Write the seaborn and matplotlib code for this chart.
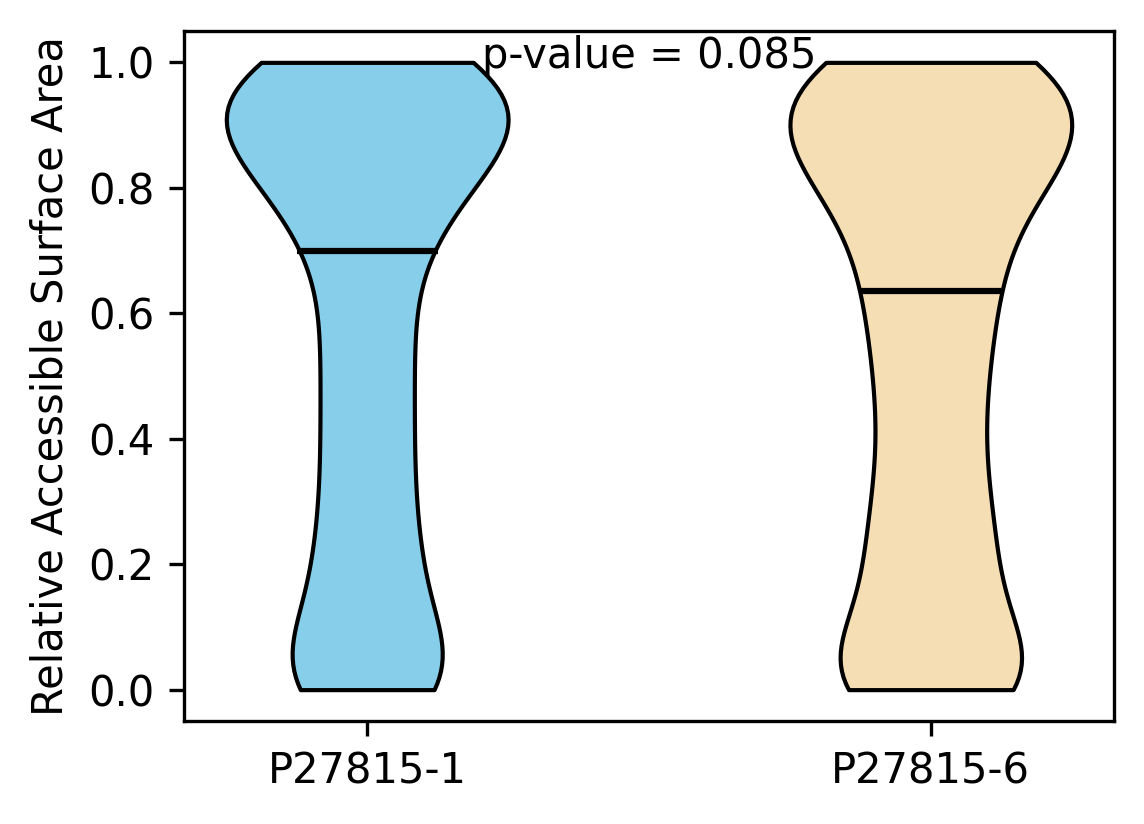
import numpy as np
import pandas as pd
import seaborn as sns
from matplotlib import pyplot as plt

groups = ['P27815-1', 'P27815-6']
colors = ['#87CEEB', '#F5DEB3']

rsa_iso1 = [0.00, 0.00, 0.00, 0.00, 0.01, 0.02, 0.04, 0.06, 0.08,
            0.11, 0.14, 0.17, 0.19,
            0.22, 0.25, 0.28,
            0.32, 0.35, 0.38,
            0.42, 0.45, 0.48,
            0.52, 0.55, 0.58,
            0.62, 0.65, 0.69,
            0.71, 0.74, 0.76, 0.78, 0.79,
            0.81, 0.82, 0.84, 0.85, 0.86, 0.87, 0.88, 0.89, 0.90,
            0.91, 0.92, 0.92, 0.93, 0.94, 0.95, 0.96, 0.97, 0.98, 0.99,
            1.00, 1.00, 1.00, 1.00]
rsa_iso6 = [0.00, 0.00, 0.00, 0.00, 0.00, 0.01, 0.02, 0.04, 0.06, 0.08,
            0.11, 0.14, 0.16, 0.19,
            0.21, 0.24, 0.26, 0.29,
            0.32, 0.35, 0.38,
            0.42, 0.45, 0.48,
            0.51, 0.54, 0.57, 0.59,
            0.63, 0.64, 0.67, 0.69,
            0.72, 0.74, 0.76, 0.78, 0.79,
            0.81, 0.83, 0.84, 0.85, 0.86, 0.87, 0.88, 0.89,
            0.90, 0.91, 0.92, 0.93, 0.94, 0.95, 0.97, 0.99,
            1.00, 1.00, 1.00, 1.00, 1.00]
p_value = 0.085

df = pd.DataFrame({
    'group': [groups[0]] * len(rsa_iso1) + [groups[1]] * len(rsa_iso6),
    'rsa': rsa_iso1 + rsa_iso6,
})

fig = plt.figure(figsize=(1144 / 300, 824 / 300), dpi=300)
ax = fig.add_axes([184 / 1144, 103 / 824, 930 / 1144, 690 / 824])

width = 0.5
sns.violinplot(data=df, x='group', y='rsa', hue='group', palette=colors,
               cut=0, inner=None, density_norm='width', width=width, bw_adjust=0.55,
               linecolor='black', linewidth=1.0, saturation=1, legend=False, ax=ax)
for coll in ax.collections:
    coll.set_alpha(1)

# median lines, half the violin width like matplotlib's showmedians
for i, vals in enumerate([rsa_iso1, rsa_iso6]):
    med = np.median(vals)
    ax.hlines(med, i - width / 4, i + width / 4, color='black', linewidth=1.5, zorder=3)

ax.set_xlim(-0.325, 1.325)
ax.set_ylim(-0.05, 1.05)
ax.set_xlabel('')
ax.set_ylabel('Relative Accessible Surface Area', fontsize=10)
ax.tick_params(labelsize=10)
ax.text(0.5, 0.991, 'p-value = {}'.format(p_value), ha='center', va='baseline', fontsize=10)

plt.savefig('out.png', dpi=300)
